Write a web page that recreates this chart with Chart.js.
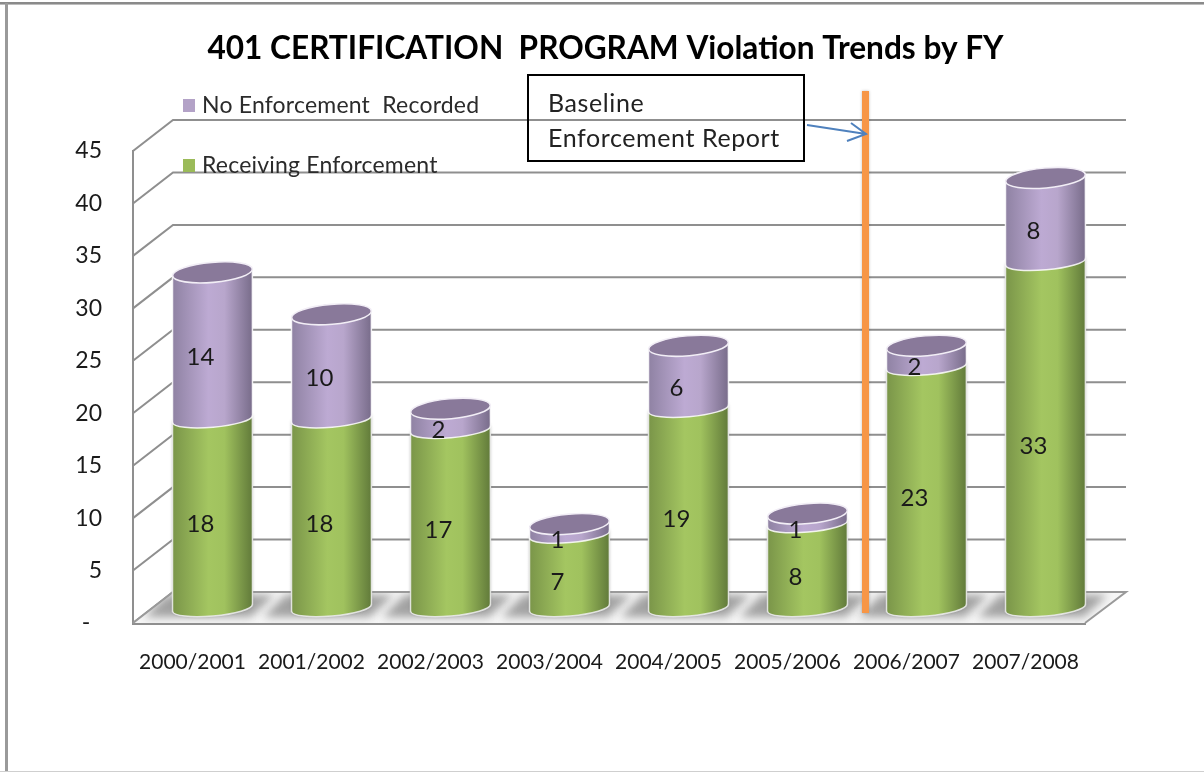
<!DOCTYPE html>
<html>
<head>
<meta charset="utf-8">
<style>
html,body{margin:0;padding:0;background:#fff;overflow:hidden}
canvas{display:block}
#wrap{width:1204px;height:772px;position:relative}
</style>
<script src="https://cdn.jsdelivr.net/npm/chart.js@4"></script>
</head>
<body>
<div id="wrap"><canvas id="c" width="1204" height="772"></canvas></div>
<script>
const categories = ["2000/2001","2001/2002","2002/2003","2003/2004","2004/2005","2005/2006","2006/2007","2007/2008"];
const receivingEnforcement = [18,18,17,7,19,8,23,33];
const noEnforcementRecorded = [14,10,2,1,6,1,2,8];
const yTickValues = [0,5,10,15,20,25,30,35,40,45];
const titleText = "401 CERTIFICATION  PROGRAM Violation Trends by FY";
const calloutLines = ["Baseline","Enforcement Report"];
const baselineBetween = 5.5;

const FONT = 'Lato, Carlito, sans-serif';
const DEPTH_X = 40, DEPTH_Y = -31;        // back wall offset of the 3D box
const BAR_DX = 20, BAR_DY = -15;          // bars stand mid-way along the floor
const RY = 10, RY_BOTTOM = 8, TILT = -5 * Math.PI / 180;
const GREEN = ['#7a9549','#a4c661','#a0c25e','#617a3a'];
const PURPLE = ['#8f82a3','#bdaad3','#b8a6cc','#786c8a'];
const CAP = '#89799a';

function barGrad(ctx, l, r, c){
  const g = ctx.createLinearGradient(l,0,r,0);
  g.addColorStop(0,c[0]); g.addColorStop(.45,c[1]); g.addColorStop(.65,c[2]); g.addColorStop(1,c[3]);
  return g;
}
function cylPath(ctx, el){
  const rx = el.width/2, ty = Math.sin(TILT);
  const dy = rx*ty;
  ctx.moveTo(el.x-rx, el.base-dy);
  ctx.lineTo(el.x-rx, el.y-dy);
  ctx.ellipse(el.x, el.y, rx, RY, TILT, Math.PI, 2*Math.PI);
  ctx.lineTo(el.x+rx, el.base+dy);
  ctx.ellipse(el.x, el.base, rx, RY_BOTTOM, TILT, 0, Math.PI);
  ctx.closePath();
}

const look3d = {
  id:'look3d',
  beforeDraw(chart){
    const {ctx,width,height} = chart;
    ctx.save();
    ctx.fillStyle='#fff'; ctx.fillRect(0,0,width,height);
    ctx.fillStyle='#8a8a8a'; ctx.fillRect(0,2,width,2);
    ctx.fillStyle='#bdbdbd'; ctx.fillRect(0,4,width,1);
    ctx.fillStyle='#9a9a9a'; ctx.fillRect(5,3,3,height);
    ctx.fillStyle='#cfcfcf'; ctx.fillRect(0,height-1,width,1);
    ctx.restore();
  },
  beforeDatasetsDraw(chart){
    const {ctx,scales:{y},chartArea:a} = chart;
    ctx.save();
    // back wall grid and slanted side wall
    ctx.strokeStyle='#8f8f8f'; ctx.lineWidth=2;
    yTickValues.forEach(v=>{
      const py=y.getPixelForValue(v);
      ctx.beginPath();
      ctx.moveTo(a.left,py);
      ctx.lineTo(a.left+DEPTH_X,py+DEPTH_Y);
      ctx.lineTo(a.right+DEPTH_X+1,py+DEPTH_Y);
      ctx.stroke();
    });
    // floor
    const y0=y.getPixelForValue(0);
    ctx.beginPath();
    ctx.moveTo(a.left,y0); ctx.lineTo(a.left+DEPTH_X,y0+DEPTH_Y);
    ctx.lineTo(a.right+DEPTH_X+1,y0+DEPTH_Y); ctx.lineTo(a.right,y0); ctx.closePath();
    ctx.fillStyle='#f6f6f6'; ctx.fill();
    ctx.save();
    ctx.clip();
    ctx.filter='blur(4px)';
    ctx.fillStyle='#a2a2a2';
    chart.getDatasetMeta(0).data.forEach(el=>{
      const l=el.x+BAR_DX-el.width/2, r=el.x+BAR_DX+el.width/2;
      ctx.beginPath();
      ctx.moveTo(l-28,y0-6); ctx.lineTo(l-6,y0-28);
      ctx.lineTo(r+22,y0-28); ctx.lineTo(r-2,y0-6); ctx.closePath();
      ctx.fill();
    });
    ctx.restore();
    ctx.strokeStyle='#9a9a9a'; ctx.lineWidth=2;
    ctx.beginPath();
    ctx.moveTo(a.left,y0); ctx.lineTo(a.left+DEPTH_X,y0+DEPTH_Y);
    ctx.lineTo(a.right+DEPTH_X+1,y0+DEPTH_Y); ctx.lineTo(a.right,y0); ctx.stroke();
    ctx.restore();

    // native bars sit in the translated, cylinder-clipped space
    ctx.save();
    ctx.translate(BAR_DX,BAR_DY);
    ctx.beginPath();
    chart.data.datasets.forEach((d,i)=>chart.getDatasetMeta(i).data.forEach(el=>cylPath(ctx,el)));
    ctx.clip();
  },
  afterDatasetsDraw(chart){
    const {ctx,scales:{x,y}} = chart;
    ctx.restore();
    ctx.save();
    ctx.translate(BAR_DX,BAR_DY);
    chart.data.datasets.forEach((d,i)=>{
      const cols = i===0?GREEN:PURPLE;
      chart.getDatasetMeta(i).data.forEach(el=>{
        const l=el.x-el.width/2, r=el.x+el.width/2;
        ctx.beginPath(); cylPath(ctx,el);
        ctx.fillStyle=barGrad(ctx,l,r,cols);
        if(i===0){ ctx.save(); ctx.shadowColor='rgba(0,0,0,.25)'; ctx.shadowBlur=3; ctx.fill(); ctx.restore(); }
        else ctx.fill();
        ctx.strokeStyle=i===0?'rgba(235,235,235,.9)':'rgba(255,255,255,.85)';
        ctx.lineWidth=1.5;
        ctx.stroke();
        if(i===1){
          ctx.beginPath();
          ctx.ellipse(el.x,el.y,el.width/2,RY,TILT,0,2*Math.PI);
          ctx.fillStyle=CAP; ctx.fill();
          ctx.strokeStyle='#f2eef6'; ctx.lineWidth=1.6; ctx.stroke();
        }
      });
    });
    ctx.restore();

    // value labels
    ctx.save();
    ctx.font='24px '+FONT; ctx.fillStyle='#1a1a1a'; ctx.textAlign='center'; ctx.textBaseline='middle';
    chart.data.datasets.forEach((d,i)=>{
      chart.getDatasetMeta(i).data.forEach((el,j)=>{
        ctx.fillText(String(d.data[j]), el.x+BAR_DX-12, (el.y+el.base)/2+BAR_DY+11);
      });
    });
    ctx.restore();

    // legend
    ctx.save();
    ctx.font='23px '+FONT; ctx.textBaseline='middle'; ctx.textAlign='left';
    ctx.letterSpacing='0.2px';
    ctx.fillStyle='#b3a2c7'; ctx.fillRect(183,99,12,13);
    ctx.fillStyle='#9bbb59'; ctx.fillRect(183,159,12,13);
    ctx.fillStyle='#2b2b2b';
    ctx.fillText(chart.data.datasets[1].label,202,106);
    ctx.fillText(chart.data.datasets[0].label,202,166);
    ctx.restore();

    // baseline marker
    ctx.save();
    const bx = x.getPixelForValue(baselineBetween)+BAR_DX-1;
    const y0 = y.getPixelForValue(0);
    ctx.shadowColor='rgba(0,0,0,.25)'; ctx.shadowBlur=3;
    ctx.fillStyle='#f79646';
    ctx.fillRect(bx-4,91,7,y0-10-91);
    ctx.restore();

    // callout
    ctx.save();
    ctx.strokeStyle='#000'; ctx.lineWidth=2;
    ctx.strokeRect(528,75,276,86);
    ctx.font='25px '+FONT; ctx.fillStyle='#222'; ctx.textBaseline='middle'; ctx.textAlign='left';
    ctx.letterSpacing='0.6px';
    ctx.fillText(calloutLines[0],548,104);
    ctx.fillText(calloutLines[1],548,139);
    ctx.restore();

    // arrow
    ctx.save();
    ctx.strokeStyle='#4f81bd'; ctx.lineWidth=2;
    ctx.beginPath();
    ctx.moveTo(807,125); ctx.lineTo(866,134);
    ctx.moveTo(851,123); ctx.lineTo(866,134); ctx.lineTo(847,141);
    ctx.stroke();
    ctx.restore();
  }
};

new Chart(document.getElementById('c'),{
  type:'bar',
  data:{
    labels:categories,
    datasets:[
      {label:'Receiving Enforcement',data:receivingEnforcement,backgroundColor:'#9bbb59'},
      {label:'No Enforcement  Recorded',data:noEnforcementRecorded,backgroundColor:'#b3a2c7'}
    ]
  },
  options:{
    responsive:false,
    animation:false,
    events:[],
    barPercentage:1,
    categoryPercentage:80/119,
    layout:{padding:{left:7,right:0,top:0,bottom:0}},
    plugins:{
      legend:{display:false},
      tooltip:{enabled:false},
      title:{
        display:true,
        text:titleText,
        color:'#000',
        font:{family:FONT,size:31.6,weight:'bold',lineHeight:1.2},
        padding:{top:30,bottom:83.1}
      }
    },
    scales:{
      x:{
        stacked:true,
        afterFit(s){s.height=149;},
        grid:{display:false,drawTicks:false},
        border:{display:true,color:'#8f8f8f',width:3},
        ticks:{color:'#1a1a1a',font:{family:FONT,size:21},padding:27,maxRotation:0,autoSkip:false}
      },
      y:{
        stacked:true,min:0,max:45,
        afterFit(s){s.width=126;},
        afterBuildTicks(s){s.ticks=yTickValues.map(v=>({value:v}));},
        grid:{display:false,drawTicks:false},
        border:{display:true,color:'#8f8f8f',width:2},
        ticks:{color:'#1a1a1a',font:{family:FONT,size:23},padding:31,
          callback:v=>v===0?'-\u00a0\u00a0':String(v)}
      },
      yRightGap:{
        position:'right',axis:'y',display:true,min:0,max:45,
        afterFit(s){s.width=119;},
        grid:{display:false,drawTicks:false},
        border:{display:false},
        ticks:{display:false}
      }
    }
  },
  plugins:[look3d]
});
</script>
</body>
</html>
